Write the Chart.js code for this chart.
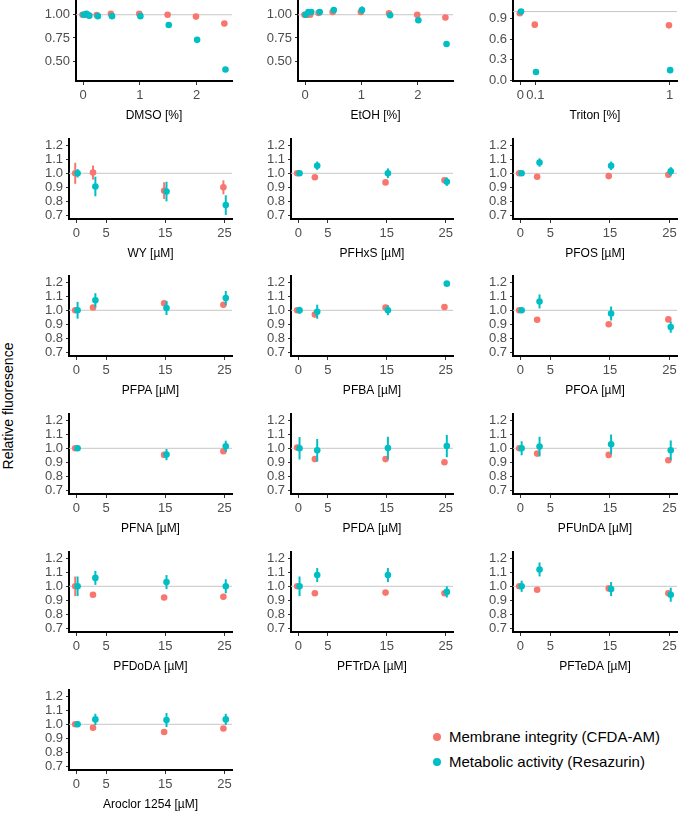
<!DOCTYPE html>
<html>
<head>
<meta charset="utf-8">
<script src="https://cdn.jsdelivr.net/npm/chart.js@4.4.0/dist/chart.umd.min.js"></script>
<style>
  body { margin: 0; background: #fff; }
  #wrap { position: relative; width: 685px; height: 813px; overflow: hidden; font-family: "Liberation Sans", Arial, sans-serif; }
  #wrap canvas { position: absolute; }
  #ytitle { position: absolute; left: 8px; top: 406px; transform: translate(-50%, -50%) rotate(-90deg); font-size: 14px; color: #000; white-space: nowrap; }
  #legend { position: absolute; left: 431px; top: 727px; font-size: 15px; color: #000; }
  #legend div { height: 25px; line-height: 20px; white-space: nowrap; }
  #legend span { display: inline-block; width: 8px; height: 8px; border-radius: 50%; margin: 0 8px 2px 2px; vertical-align: middle; }
</style>
</head>
<body>
<div id="wrap">
  <div id="ytitle">Relative fluoresence</div>
  <div id="legend">
    <div><span style="background:#F8766D"></span>Membrane integrity (CFDA-AM)</div>
    <div><span style="background:#00BFC4"></span>Metabolic activity (Resazurin)</div>
  </div>
</div>
<script>
// doses
const pctDose = [0, 0.05, 0.1, 0.25, 0.5, 1, 1.5, 2, 2.5];
const tritonDose = [0, 0.1, 1];
const umDose = [0, 3, 15, 25];
const umDoseNoThree = [0, 15, 25];

// tick labels
const pctTicks = [0, 1, 2];
const tritonTicks = [0, 0.1, 1];
const umTicks = [0, 5, 15, 25];
const pctYTicks = [0.5, 0.75, 1.0];
const tritonYTicks = [0, 0.3, 0.6, 0.9];
const umYTicks = [0.7, 0.8, 0.9, 1.0, 1.1, 1.2];

// CFDA-AM (membrane) and resazurin (metabolic), mean and error
const dmsoCfda = [1.0, 1.0, 0.995, 0.997, 1.01, 1.01, 1.0, 0.98, 0.905];
const dmsoCfdaErr = [0.01, 0.01, 0.01, 0.01, 0.02, 0.02, 0.01, 0.015, 0.01];
const dmsoRes = [1.0, 1.01, 0.99, 0.985, 0.985, 0.985, 0.89, 0.73, 0.41];
const dmsoResErr = [0.01, 0.02, 0.01, 0.01, 0.01, 0.01, 0.02, 0.02, 0.02];

const etohCfda = [1.0, 1.0, 1.0, 1.02, 1.03, 1.03, 1.015, 1.0, 0.97];
const etohCfdaErr = [0.01, 0.01, 0.01, 0.02, 0.01, 0.02, 0.02, 0.01, 0.01];
const etohRes = [1.0, 1.03, 1.03, 1.03, 1.05, 1.05, 0.995, 0.94, 0.685];
const etohResErr = [0.01, 0.03, 0.03, 0.03, 0.01, 0.04, 0.03, 0.02, 0.03];

const tritonCfda = [0.975, 0.81, 0.80];
const tritonCfdaErr = [0.01, 0.01, 0.01];
const tritonRes = [1.0, 0.12, 0.148];
const tritonResErr = [0.01, 0.01, 0.01];

const wyCfda = [1.0, 1.005, 0.876, 0.90];
const wyCfdaErr = [0.075, 0.05, 0.06, 0.05];
const wyRes = [1.0, 0.906, 0.87, 0.773];
const wyResErr = [0.03, 0.07, 0.07, 0.07];

const pfhxsCfda = [1.0, 0.972, 0.935, 0.95];
const pfhxsCfdaErr = [0.01, 0.01, 0.01, 0.015];
const pfhxsRes = [1.0, 1.054, 1.0, 0.94];
const pfhxsResErr = [0.01, 0.03, 0.035, 0.03];

const pfosCfda = [1.0, 0.975, 0.98, 0.99];
const pfosCfdaErr = [0.01, 0.01, 0.01, 0.01];
const pfosRes = [1.0, 1.077, 1.054, 1.014];
const pfosResErr = [0.01, 0.03, 0.03, 0.03];

const pfpaCfda = [1.0, 1.02, 1.05, 1.04];
const pfpaCfdaErr = [0.01, 0.01, 0.02, 0.01];
const pfpaRes = [1.0, 1.072, 1.016, 1.088];
const pfpaResErr = [0.06, 0.05, 0.05, 0.05];

const pfbaCfda = [1.0, 0.97, 1.02, 1.023];
const pfbaCfdaErr = [0.01, 0.02, 0.02, 0.01];
const pfbaRes = [1.0, 0.99, 1.0, 1.19];
const pfbaResErr = [0.025, 0.05, 0.035, 0.01];

const pfoaCfda = [1.0, 0.933, 0.90, 0.935];
const pfoaCfdaErr = [0.01, 0.01, 0.01, 0.02];
const pfoaRes = [1.0, 1.063, 0.977, 0.88];
const pfoaResErr = [0.01, 0.05, 0.05, 0.04];

const pfnaCfda = [1.0, 0.953, 0.979];
const pfnaCfdaErr = [0.01, 0.01, 0.01];
const pfnaRes = [1.0, 0.955, 1.014];
const pfnaResErr = [0.01, 0.04, 0.04];

const pfdaCfda = [1.005, 0.923, 0.923, 0.90];
const pfdaCfdaErr = [0.02, 0.01, 0.01, 0.01];
const pfdaRes = [1.0, 0.986, 1.002, 1.016];
const pfdaResErr = [0.08, 0.08, 0.08, 0.08];

const pfundaCfda = [1.0, 0.962, 0.953, 0.915];
const pfundaCfdaErr = [0.01, 0.01, 0.01, 0.01];
const pfundaRes = [1.0, 1.012, 1.028, 0.986];
const pfundaResErr = [0.05, 0.07, 0.07, 0.07];

const pfdodaCfda = [1.0, 0.94, 0.92, 0.925];
const pfdodaCfdaErr = [0.07, 0.01, 0.01, 0.01];
const pfdodaRes = [1.0, 1.06, 1.03, 1.0];
const pfdodaResErr = [0.07, 0.05, 0.05, 0.05];

const pftrdaCfda = [1.0, 0.95, 0.955, 0.95];
const pftrdaCfdaErr = [0.01, 0.01, 0.01, 0.01];
const pftrdaRes = [1.0, 1.08, 1.08, 0.96];
const pftrdaResErr = [0.07, 0.05, 0.05, 0.04];

const pftedaCfda = [1.0, 0.975, 0.985, 0.95];
const pftedaCfdaErr = [0.01, 0.01, 0.01, 0.01];
const pftedaRes = [1.0, 1.12, 0.98, 0.94];
const pftedaResErr = [0.04, 0.05, 0.05, 0.05];

const aroclorCfda = [1.0, 0.975, 0.945, 0.97];
const aroclorCfdaErr = [0.01, 0.01, 0.01, 0.01];
const aroclorRes = [1.0, 1.035, 1.03, 1.035];
const aroclorResErr = [0.02, 0.04, 0.05, 0.04];

const RED = '#F8766D';
const TEAL = '#00BFC4';

// panel kinds: x/y ranges and ticks
const kinds = {
    pct: { xmin: -0.125, xmax: 2.625, xt: pctTicks, ymin: 0.287, ymax: 1.15, yt: pctYTicks, yd: 2, dodge: 0.01 },
    triton: { xmin: -0.05, xmax: 1.05, xt: tritonTicks, ymin: -0.01, ymax: 1.157, yt: tritonYTicks, yd: 1, dodge: 0.004 },
    um: { xmin: -1.25, xmax: 26.25, xt: umTicks, ymin: 0.674, ymax: 1.246, yt: umYTicks, yd: 1, dodge: 0.2 }
};

const panels = [
    { title: 'DMSO [%]', kind: 'pct', x: pctDose, a: dmsoCfda, ae: dmsoCfdaErr, b: dmsoRes, be: dmsoResErr },
    { title: 'EtOH [%]', kind: 'pct', x: pctDose, a: etohCfda, ae: etohCfdaErr, b: etohRes, be: etohResErr },
    { title: 'Triton [%]', kind: 'triton', x: tritonDose, a: tritonCfda, ae: tritonCfdaErr, b: tritonRes, be: tritonResErr },
    { title: 'WY [µM]', kind: 'um', x: umDose, a: wyCfda, ae: wyCfdaErr, b: wyRes, be: wyResErr },
    { title: 'PFHxS [µM]', kind: 'um', x: umDose, a: pfhxsCfda, ae: pfhxsCfdaErr, b: pfhxsRes, be: pfhxsResErr },
    { title: 'PFOS [µM]', kind: 'um', x: umDose, a: pfosCfda, ae: pfosCfdaErr, b: pfosRes, be: pfosResErr },
    { title: 'PFPA [µM]', kind: 'um', x: umDose, a: pfpaCfda, ae: pfpaCfdaErr, b: pfpaRes, be: pfpaResErr },
    { title: 'PFBA [µM]', kind: 'um', x: umDose, a: pfbaCfda, ae: pfbaCfdaErr, b: pfbaRes, be: pfbaResErr },
    { title: 'PFOA [µM]', kind: 'um', x: umDose, a: pfoaCfda, ae: pfoaCfdaErr, b: pfoaRes, be: pfoaResErr },
    { title: 'PFNA [µM]', kind: 'um', x: umDoseNoThree, a: pfnaCfda, ae: pfnaCfdaErr, b: pfnaRes, be: pfnaResErr },
    { title: 'PFDA [µM]', kind: 'um', x: umDose, a: pfdaCfda, ae: pfdaCfdaErr, b: pfdaRes, be: pfdaResErr },
    { title: 'PFUnDA [µM]', kind: 'um', x: umDose, a: pfundaCfda, ae: pfundaCfdaErr, b: pfundaRes, be: pfundaResErr },
    { title: 'PFDoDA [µM]', kind: 'um', x: umDose, a: pfdodaCfda, ae: pfdodaCfdaErr, b: pfdodaRes, be: pfdodaResErr },
    { title: 'PFTrDA [µM]', kind: 'um', x: umDose, a: pftrdaCfda, ae: pftrdaCfdaErr, b: pftrdaRes, be: pftrdaResErr },
    { title: 'PFTeDA [µM]', kind: 'um', x: umDose, a: pftedaCfda, ae: pftedaCfdaErr, b: pftedaRes, be: pftedaResErr },
    { title: 'Aroclor 1254 [µM]', kind: 'um', x: umDose, a: aroclorCfda, ae: aroclorCfdaErr, b: aroclorRes, be: aroclorResErr }
];

// layout of the grid (plot area edges in page pixels)
const rowTops = [0, 138, 275, 413, 551, 689];
const plotH = 81;
const axisXRow1 = [76, 298, 513];
const axisXRest = [69, 291, 513];
const plotRight = [232, 453, 677];
const yAxisW = 44;
const padTop = 10;
const padRight = 10;
const xAxisH = 42;

Chart.defaults.font.family = "'Liberation Sans', Arial, sans-serif";

const errorBars = {
    id: 'errorBars',
    beforeDatasetDraw(chart, args) {
        const ds = chart.data.datasets[args.index];
        if (!ds.err) return;
        const ys = chart.scales.y;
        const c = chart.ctx;
        c.save();
        c.strokeStyle = ds.borderColor;
        c.lineWidth = 2;
        args.meta.data.forEach((pt, i) => {
            const v = ds.data[i].y;
            const e = ds.err[i];
            c.beginPath();
            c.moveTo(pt.x, ys.getPixelForValue(v - e));
            c.lineTo(pt.x, ys.getPixelForValue(v + e));
            c.stroke();
        });
        c.restore();
    }
};

const wrap = document.getElementById('wrap');

panels.forEach((p, n) => {
    const row = Math.floor(n / 3);
    const col = n % 3;
    const k = kinds[p.kind];
    const axisX = row === 0 ? axisXRow1[col] : axisXRest[col];
    const left = axisX - yAxisW;
    const w = plotRight[col] - left + padRight;
    const h = padTop + plotH + xAxisH;

    const cv = document.createElement('canvas');
    cv.width = w;
    cv.height = h;
    cv.style.left = left + 'px';
    cv.style.top = (rowTops[row] - padTop) + 'px';
    cv.style.width = w + 'px';
    cv.style.height = h + 'px';
    wrap.appendChild(cv);

    new Chart(cv, {
        type: 'scatter',
        data: {
            datasets: [{
                label: 'Metabolic activity (Resazurin)',
                data: p.x.map((x, i) => ({ x: x + k.dodge, y: p.b[i] })),
                err: p.be,
                backgroundColor: TEAL,
                borderColor: TEAL,
                pointRadius: 3.3,
                borderWidth: 0,
                clip: false
            }, {
                label: 'Membrane integrity (CFDA-AM)',
                data: p.x.map((x, i) => ({ x: x - k.dodge, y: p.a[i] })),
                err: p.ae,
                backgroundColor: RED,
                borderColor: RED,
                pointRadius: 3.3,
                borderWidth: 0,
                clip: false
            }, {
                type: 'line',
                data: [{ x: k.xmin, y: 1 }, { x: k.xmax, y: 1 }],
                borderColor: '#c6c6c6',
                borderWidth: 1,
                pointRadius: 0
            }]
        },
        options: {
            responsive: false,
            animation: false,
            events: [],
            layout: { padding: { top: padTop, right: padRight, left: 0, bottom: 0 } },
            plugins: { legend: { display: false }, tooltip: { enabled: false } },
            scales: {
                x: {
                    type: 'linear',
                    min: k.xmin,
                    max: k.xmax,
                    afterBuildTicks: (ax) => { ax.ticks = k.xt.map(v => ({ value: v })); },
                    afterFit: (ax) => { ax.height = xAxisH; },
                    ticks: {
                        autoSkip: false,
                        maxRotation: 0,
                        minRotation: 0,
                        padding: 3,
                        color: '#4d4d4d',
                        font: { size: 13 },
                        callback: (v) => String(v)
                    },
                    grid: { drawOnChartArea: false, tickLength: 4, color: '#333', lineWidth: 1 },
                    border: { color: '#000', width: 2 },
                    title: { display: true, text: p.title, color: '#000', font: { size: 12 }, padding: 0 }
                },
                y: {
                    type: 'linear',
                    min: k.ymin,
                    max: k.ymax,
                    afterBuildTicks: (ax) => { ax.ticks = k.yt.map(v => ({ value: v })); },
                    afterFit: (ax) => { ax.width = yAxisW; },
                    ticks: {
                        autoSkip: false,
                        padding: 3,
                        color: '#4d4d4d',
                        font: { size: 13 },
                        callback: (v) => Number(v).toFixed(k.yd)
                    },
                    grid: { drawOnChartArea: false, tickLength: 3, color: '#333', lineWidth: 1 },
                    border: { color: '#000', width: 2 }
                }
            }
        },
        plugins: [errorBars]
    });
});
</script>
</body>
</html>
